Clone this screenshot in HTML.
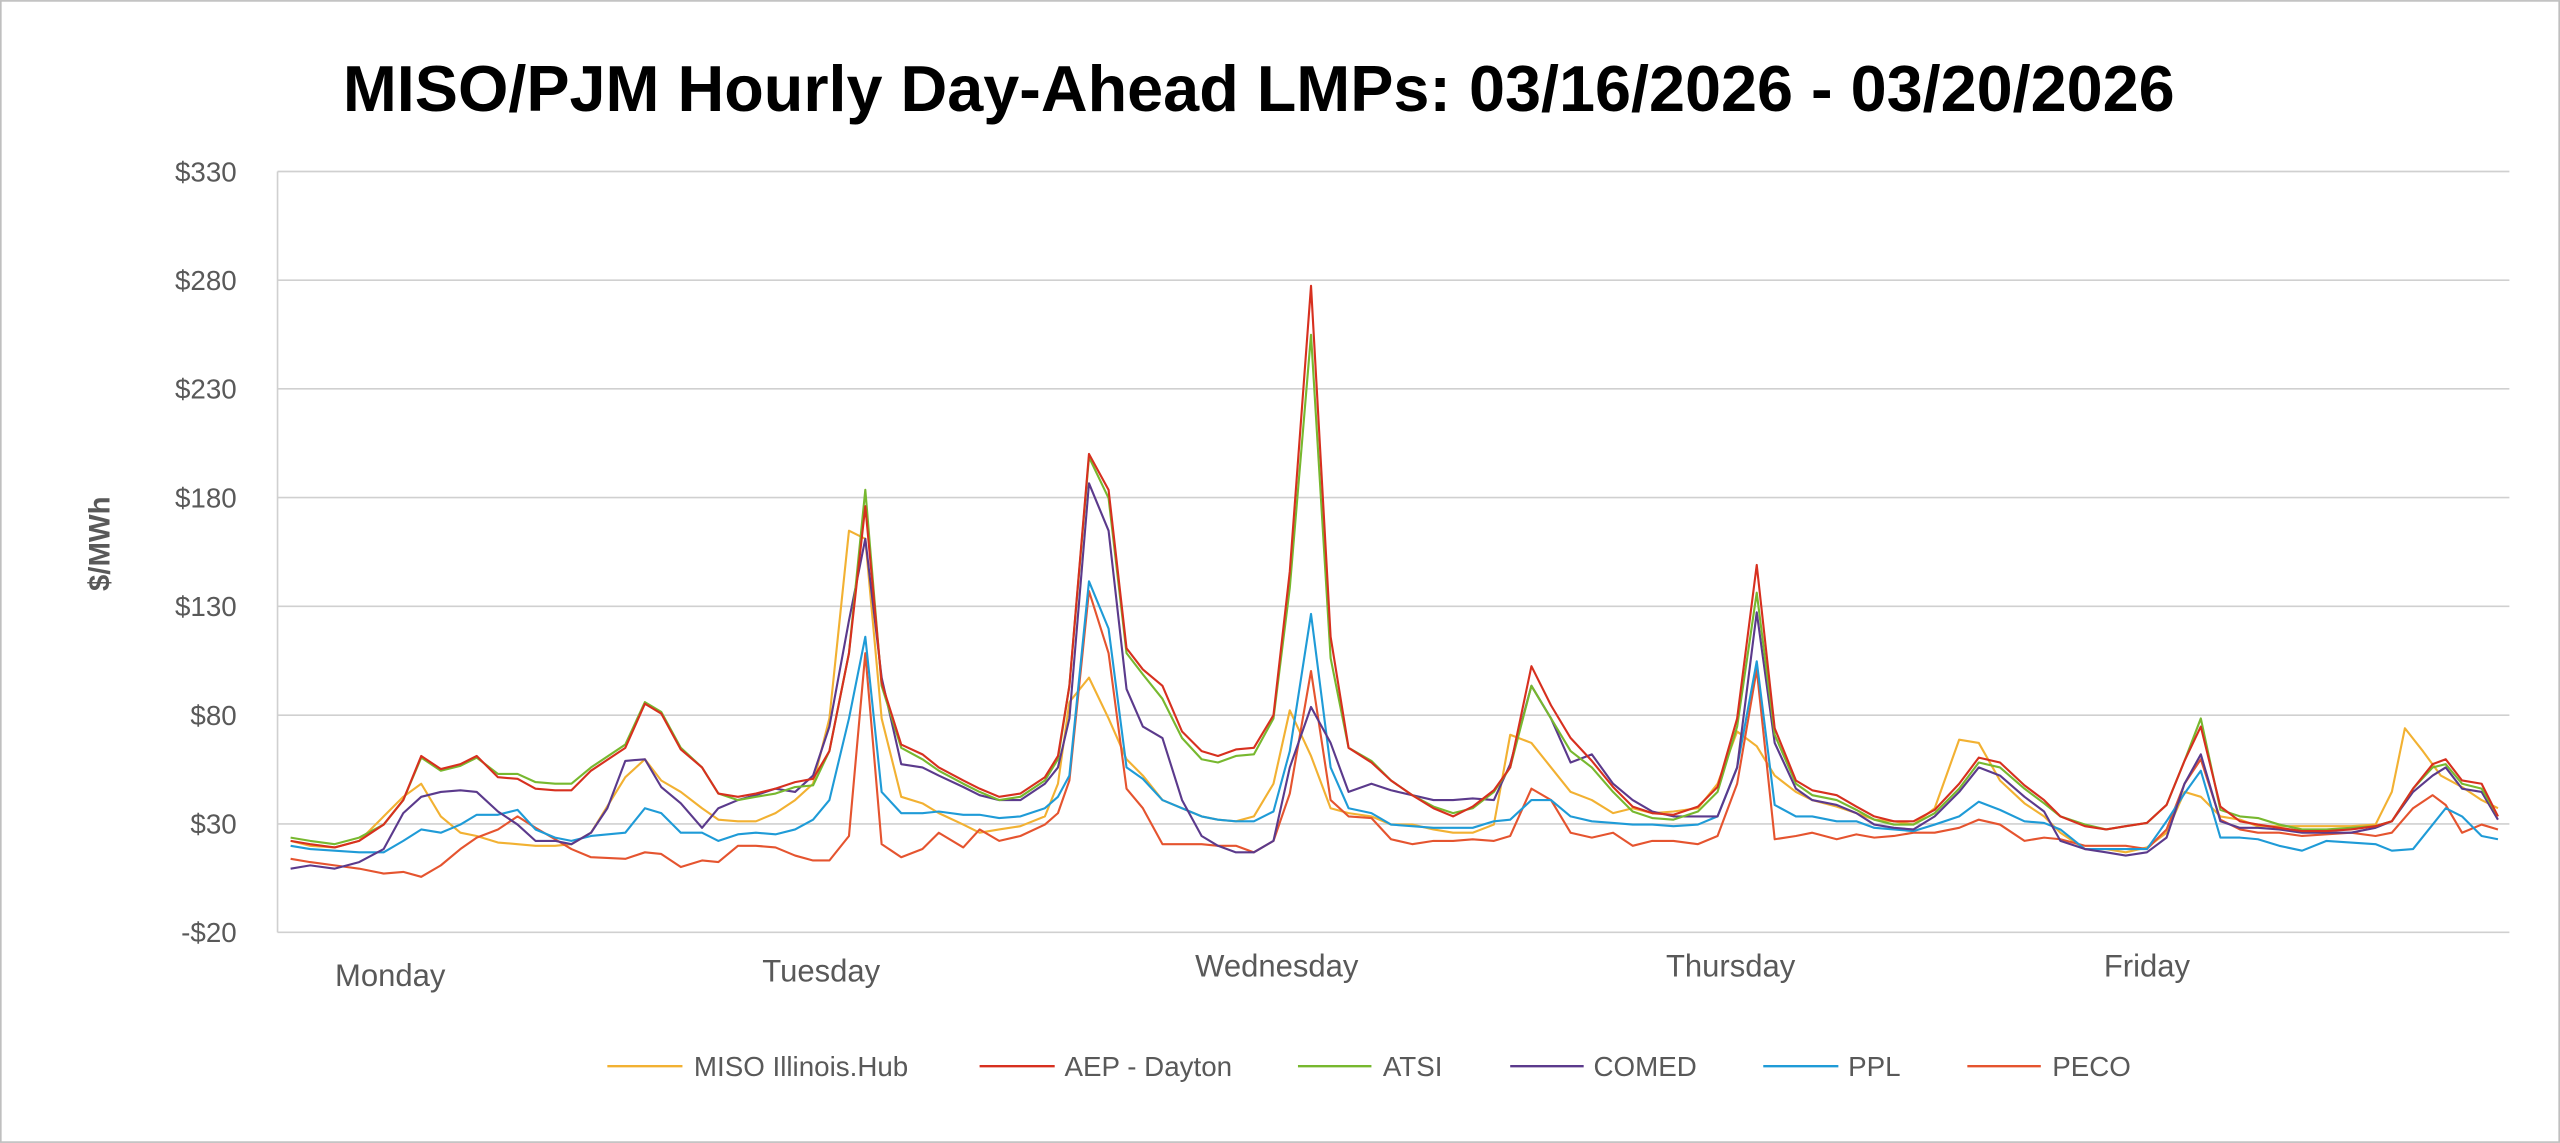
<!DOCTYPE html>
<html><head><meta charset="utf-8"><style>
html,body{margin:0;padding:0;background:#fff;}
svg{display:block;}
text{font-family:"Liberation Sans Narrow","Liberation Sans",sans-serif;}
</style></head><body>
<svg width="2560" height="1143" viewBox="0 0 1568 700" xmlns="http://www.w3.org/2000/svg">
<rect x="0.5" y="0.5" width="1567" height="699" fill="#fff" stroke="#bfbfbf" stroke-width="1"/>
<text x="771" y="68" text-anchor="middle" font-size="40" font-weight="bold" fill="#000" textLength="1122" lengthAdjust="spacingAndGlyphs">MISO/PJM Hourly Day-Ahead LMPs: 03/16/2026 - 03/20/2026</text>
<g stroke="#d0d0d0" stroke-width="1">
<line x1="170" x2="1537" y1="105" y2="105"/><line x1="170" x2="1537" y1="171.6" y2="171.6"/>
<line x1="170" x2="1537" y1="238.1" y2="238.1"/><line x1="170" x2="1537" y1="304.7" y2="304.7"/>
<line x1="170" x2="1537" y1="371.3" y2="371.3"/><line x1="170" x2="1537" y1="438" y2="438"/>
<line x1="170" x2="1537" y1="504.6" y2="504.6"/><line x1="170" x2="1537" y1="571" y2="571"/>
<line x1="170" x2="170" y1="105" y2="571"/>
</g>
<g font-size="17" fill="#595959" text-anchor="end">
<text x="145" y="111">$330</text><text x="145" y="177.6">$280</text><text x="145" y="244.1">$230</text>
<text x="145" y="310.7">$180</text><text x="145" y="377.3">$130</text><text x="145" y="444">$80</text>
<text x="145" y="510.6">$30</text><text x="145" y="577">-$20</text>
</g>
<text transform="translate(67,333) rotate(-90)" text-anchor="middle" font-size="18" font-weight="bold" fill="#595959">$/MWh</text>
<g font-size="19" fill="#595959" text-anchor="middle">
<text x="239" y="604">Monday</text><text x="503" y="601">Tuesday</text><text x="782" y="598">Wednesday</text>
<text x="1060" y="598">Thursday</text><text x="1315" y="598">Friday</text>
</g>
<g fill="none" stroke-width="1.3" stroke-linejoin="round">
<polyline stroke="#F2B132" points="178,515 190,518 205,519 220,515 235,500 247,488 258,480 270,500 282,510 292,512 305,516 317,517 328,518 340,518 350,517 362,510 383,476 395,465 405,478 417,485 430,495 440,502 452,503 463,503 475,498 487,490 498,480 508,440 520,325 530,330 540,440 552,488 565,492 575,498 590,505 600,510 612,508 625,506 640,500 648,480 655,430 667,415 679,440 690,465 700,475 712,490 724,495 736,500 746,502 757,503 768,500 780,480 790,435 803,463 815,495 826,498 840,500 852,505 865,505 878,508 890,510 902,510 915,505 925,450 938,455 950,470 962,485 975,490 988,498 1000,495 1012,498 1025,497 1040,495 1052,480 1064,448 1076,457 1087,475 1100,485 1110,490 1125,494 1137,498 1148,502 1160,503 1172,505 1185,495 1200,453 1212,455 1225,478 1240,492 1252,500 1262,510 1277,520 1290,520 1302,522 1315,519 1327,510 1338,485 1348,488 1360,500 1372,502 1383,506 1396,506 1410,506 1425,506 1440,506 1455,505 1465,485 1473,446 1484,460 1495,475 1508,482 1520,490 1530,495"/>
<polyline stroke="#E5542F" points="178,526 190,528 205,530 220,532 235,535 247,534 258,537 270,530 282,520 292,513 305,508 317,500 328,507 340,514 350,520 362,525 383,526 395,522 405,523 417,531 430,527 440,528 452,518 463,518 475,519 487,524 498,527 508,527 520,512 530,400 540,517 552,525 565,520 575,510 590,519 600,508 612,515 625,512 640,505 648,498 655,478 667,362 679,400 690,483 700,495 712,517 724,517 736,517 746,518 757,518 768,522 780,515 790,486 803,411 815,490 826,500 840,501 852,514 865,517 878,515 890,515 902,514 915,515 925,512 938,483 950,490 962,510 975,513 988,510 1000,518 1012,515 1025,515 1040,517 1052,512 1064,480 1076,410 1087,514 1100,512 1110,510 1125,514 1137,511 1148,513 1160,512 1172,510 1185,510 1200,507 1212,502 1225,505 1240,515 1252,513 1262,514 1277,518 1290,518 1302,518 1315,520 1327,508 1338,480 1348,465 1360,502 1372,508 1383,510 1396,510 1410,512 1425,511 1440,510 1455,512 1465,510 1478,495 1490,487 1498,493 1508,510 1520,505 1530,508"/>
<polyline stroke="#1F9BD7" points="178,518 190,520 205,521 220,522 235,522 247,515 258,508 270,510 282,505 292,499 305,499 317,496 328,508 340,513 350,515 362,512 383,510 395,495 405,498 417,510 430,510 440,515 452,511 463,510 475,511 487,508 498,502 508,490 520,440 530,390 540,485 552,498 565,498 575,497 590,499 600,499 612,501 625,500 640,495 648,488 655,475 667,356 679,385 690,470 700,477 712,490 724,495 736,500 746,502 757,503 768,503 780,497 790,460 803,376 815,470 826,495 840,498 852,505 865,506 878,507 890,507 902,507 915,503 925,502 938,490 950,490 962,500 975,503 988,504 1000,505 1012,505 1025,506 1040,505 1052,500 1064,470 1076,405 1087,493 1100,500 1110,500 1125,503 1137,503 1148,507 1160,508 1172,509 1185,505 1200,500 1212,491 1225,496 1240,503 1252,504 1262,508 1277,520 1290,520 1302,520 1315,520 1327,503 1338,486 1348,472 1360,513 1372,513 1383,514 1396,518 1410,521 1425,515 1440,516 1455,517 1465,521 1478,520 1490,505 1498,495 1508,500 1520,512 1530,514"/>
<polyline stroke="#5B3A8C" points="178,532 190,530 205,532 220,528 235,520 247,498 258,488 270,485 282,484 292,485 305,497 317,505 328,515 340,515 350,517 362,510 372,495 383,466 395,465 405,482 417,492 430,507 440,495 452,490 463,487 475,483 487,485 498,475 508,445 520,380 530,330 540,415 552,468 565,470 575,475 590,482 600,487 612,490 625,490 640,480 648,470 655,440 667,296 679,325 690,422 700,445 712,452 724,490 736,512 746,518 757,522 768,522 780,515 790,470 803,433 815,455 826,485 840,480 852,484 865,487 878,490 890,490 902,489 915,490 925,468 938,420 950,440 962,467 975,462 988,480 1000,490 1012,497 1025,500 1040,500 1052,500 1064,470 1076,375 1087,455 1100,483 1110,490 1125,493 1137,498 1148,505 1160,507 1172,508 1185,500 1200,485 1212,470 1225,475 1240,488 1252,497 1262,515 1277,520 1290,522 1302,524 1315,522 1327,513 1338,480 1348,462 1360,503 1372,507 1383,507 1396,508 1410,510 1425,510 1440,510 1455,507 1465,503 1478,485 1490,475 1498,470 1508,483 1520,485 1530,502"/>
<polyline stroke="#77B82F" points="178,513 190,515 205,517 220,513 235,505 247,490 258,464 270,472 282,469 292,464 305,474 317,474 328,479 340,480 350,480 362,470 383,456 395,430 405,436 417,458 430,470 440,486 452,490 463,488 475,486 487,482 498,481 508,460 520,400 530,300 540,420 552,458 565,465 575,472 590,480 600,485 612,490 625,488 640,478 648,465 655,420 667,280 679,305 690,400 700,413 712,428 724,452 736,465 746,467 757,463 768,462 780,440 790,360 803,205 815,403 826,458 840,466 852,478 865,487 878,494 890,498 902,495 915,485 925,470 938,420 950,440 962,460 975,470 988,485 1000,497 1012,501 1025,502 1040,497 1052,485 1064,445 1076,363 1087,450 1100,480 1110,487 1125,490 1137,496 1148,502 1160,505 1172,505 1185,498 1200,483 1212,467 1225,470 1240,483 1252,492 1262,500 1277,505 1290,508 1302,506 1315,504 1327,493 1338,466 1348,440 1360,496 1372,500 1383,501 1396,505 1410,508 1425,508 1440,507 1455,506 1465,503 1478,483 1490,470 1498,468 1508,480 1520,483 1530,500"/>
<polyline stroke="#D7301F" points="178,515 190,517 205,519 220,515 235,505 247,490 258,463 270,471 282,468 292,463 305,476 317,477 328,483 340,484 350,484 362,472 383,458 395,431 405,437 417,459 430,470 440,486 452,488 463,486 475,483 487,479 498,477 508,460 520,400 530,310 540,418 552,456 565,462 575,470 590,478 600,483 612,488 625,486 640,476 648,463 655,420 667,278 679,300 690,397 700,410 712,420 724,448 736,460 746,463 757,459 768,458 780,438 790,350 803,175 815,390 826,458 840,467 852,478 865,487 878,495 890,500 902,494 915,484 925,470 938,408 950,432 962,452 975,466 988,482 1000,494 1012,498 1025,499 1040,494 1052,482 1064,440 1076,346 1087,446 1100,478 1110,484 1125,487 1137,494 1148,500 1160,503 1172,503 1185,496 1200,480 1212,464 1225,467 1240,481 1252,490 1262,500 1277,506 1290,508 1302,506 1315,504 1327,493 1338,466 1348,445 1360,494 1372,503 1383,505 1396,507 1410,509 1425,509 1440,508 1455,506 1465,503 1478,483 1490,468 1498,465 1508,478 1520,480 1530,500"/>
</g>
<g stroke-width="1.5">
<line x1="372" x2="418" y1="653" y2="653" stroke="#F2B132"/>
<line x1="600" x2="646" y1="653" y2="653" stroke="#D7301F"/>
<line x1="795" x2="840" y1="653" y2="653" stroke="#77B82F"/>
<line x1="925" x2="970" y1="653" y2="653" stroke="#5B3A8C"/>
<line x1="1080" x2="1126" y1="653" y2="653" stroke="#1F9BD7"/>
<line x1="1205" x2="1250" y1="653" y2="653" stroke="#E5542F"/>
</g>
<g font-size="17" fill="#595959">
<text x="425" y="659">MISO Illinois.Hub</text>
<text x="652" y="659">AEP - Dayton</text>
<text x="847" y="659">ATSI</text>
<text x="976" y="659">COMED</text>
<text x="1132" y="659">PPL</text>
<text x="1257" y="659">PECO</text>
</g>
</svg>
</body></html>
